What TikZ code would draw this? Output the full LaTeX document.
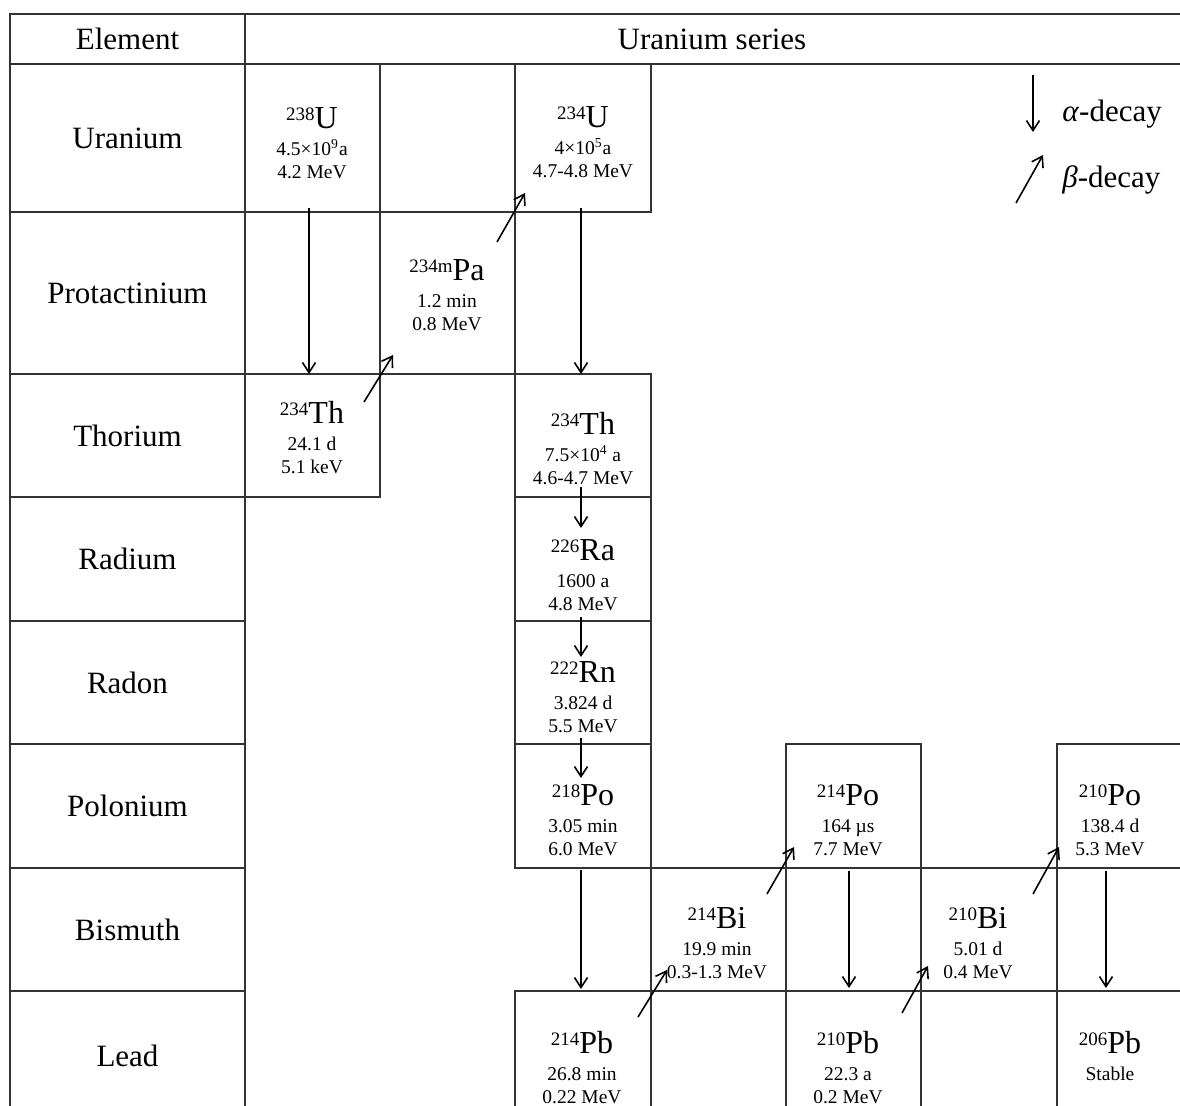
\documentclass[tikz,border=0pt]{standalone}
\usepackage{fontspec}
\setmainfont{Liberation Serif}
\usetikzlibrary{arrows.meta,calc}

\newcommand{\nuc}[2]{{\fontsize{16}{16}\selectfont\raisebox{4pt}{\fontsize{9.5}{9.5}\selectfont #1}#2}}

\tikzset{
  grid/.style={line width=0.9pt,draw=black!80},
  rowname/.style={font=\fontsize{15.5}{18}\selectfont,inner sep=0pt},
  isotope/.style={anchor=north,align=center,inner sep=0pt,font=\fontsize{9.75}{11.5}\selectfont},
  adecay/.style={-{Straight Barb[length=5pt,width=6.5pt]},line width=0.8pt},
  bdecay/.style={adecay}
}

\begin{document}
\begin{tikzpicture}[x=0.5pt,y=-0.5pt]
\useasboundingbox (0,0) rectangle (1180,1106);
\clip (0,0) rectangle (1180,1106);

% header
\draw[grid] (10,14) rectangle (245,64);
\draw[grid] (245,14) -- (1190,14) (245,64) -- (1190,64);
\node[rowname] (element) at (127.5,39) {Element};
\node[rowname] (series) at (712,39) {Uranium series};

% element column
\foreach \ya/\yb/\name in {64/212/Uranium,212/374/Protactinium,374/497/Thorium,
  497/621/Radium,621/744/Radon,744/868/Polonium,868/991/Bismuth,991/1120/Lead} {
  \draw[grid] (10,\ya) rectangle (245,\yb);
  \node[rowname] (\name) at (127.5,{(\ya+\yb)/2}) {\name};
}

% nuclide cells
\draw[grid] (245,64) rectangle (380,212);
\draw[grid] (380,212) rectangle (515,374);
\draw[grid] (245,374) rectangle (380,497);
\draw[grid] (515,64) rectangle (651,212);
\draw[grid] (515,374) rectangle (651,497);
\draw[grid] (515,497) rectangle (651,621);
\draw[grid] (515,621) rectangle (651,744);
\draw[grid] (515,744) rectangle (651,868);
\draw[grid] (515,991) rectangle (651,1120);
\draw[grid] (651,868) rectangle (786,991);
\draw[grid] (786,744) rectangle (921,868);
\draw[grid] (786,991) rectangle (921,1120);
\draw[grid] (921,868) rectangle (1057,991);
\draw[grid] (1057,744) rectangle (1190,868);
\draw[grid] (1057,991) rectangle (1190,1120);

\node[isotope] (u238) at (312,107) {\nuc{238}{U}\\[2pt]4.5×10\textsuperscript{9}a\\4.2 MeV};
\node[isotope] (u234) at (583,106) {\nuc{234}{U}\\[2pt]4×10\textsuperscript{5}a\\4.7-4.8 MeV};
\node[isotope] (pa234) at (447,259) {\nuc{234m}{Pa}\\[2pt]1.2 min\\0.8 MeV};
\node[isotope] (th234a) at (312,401) {\nuc{234}{Th}\\[2pt]24.1 d\\5.1 keV};
\node[isotope] (th234b) at (583,412) {\nuc{234}{Th}\\[2pt]7.5×10\textsuperscript{4} a\\4.6-4.7 MeV};
\node[isotope] (ra226) at (583,539) {\nuc{226}{Ra}\\[2pt]1600 a\\4.8 MeV};
\node[isotope] (rn222) at (583,661) {\nuc{222}{Rn}\\[2pt]3.824 d\\5.5 MeV};
\node[isotope] (po218) at (583,784) {\nuc{218}{Po}\\[2pt]3.05 min\\6.0 MeV};
\node[isotope] (bi214) at (717,907) {\nuc{214}{Bi}\\[2pt]19.9 min\\0.3-1.3 MeV};
\node[isotope] (po214) at (848,784) {\nuc{214}{Po}\\[2pt]164 µs\\7.7 MeV};
\node[isotope] (bi210) at (978,907) {\nuc{210}{Bi}\\[2pt]5.01 d\\0.4 MeV};
\node[isotope] (po210) at (1110,784) {\nuc{210}{Po}\\[2pt]138.4 d\\5.3 MeV};
\node[isotope] (pb214) at (582,1031) {\nuc{214}{Pb}\\[2pt]26.8 min\\0.22 MeV};
\node[isotope] (pb210) at (848,1031) {\nuc{210}{Pb}\\[2pt]22.3 a\\0.2 MeV};
\node[isotope] (pb206) at (1110,1031) {\nuc{206}{Pb}\\[2pt]Stable};

% legend
\node[rowname,anchor=base west] (alpha) at (1062,122) {\textit{α}-decay};
\node[rowname,anchor=base west] (beta) at (1062,188) {\textit{β}-decay};

% alpha decays
\foreach \n/\xa/\ya/\yb in {1/309/208/374,2/581/208/374,3/581/487/528,4/581/617/657,
  5/581/738/778,6/581/870/989,7/849/871/988,8/1106/871/988,9/1033/75/132} {
  \coordinate (a\n s) at (\xa,\ya);
  \coordinate (a\n e) at (\xa,\yb);
  \draw[adecay] (a\n s) -- (a\n e);
}

% beta decays
\foreach \n/\xa/\ya/\xb/\yb in {1/364/402/393/355,2/497/242/525/193,3/638/1017/667/970,
  4/767/894/794/847,5/902/1013/928/966,6/1033/894/1059/847,7/1016/203/1043/155} {
  \coordinate (b\n s) at (\xa,\ya);
  \coordinate (b\n e) at (\xb,\yb);
  \draw[bdecay] (b\n s) -- (b\n e);
}
\end{tikzpicture}
\end{document}
